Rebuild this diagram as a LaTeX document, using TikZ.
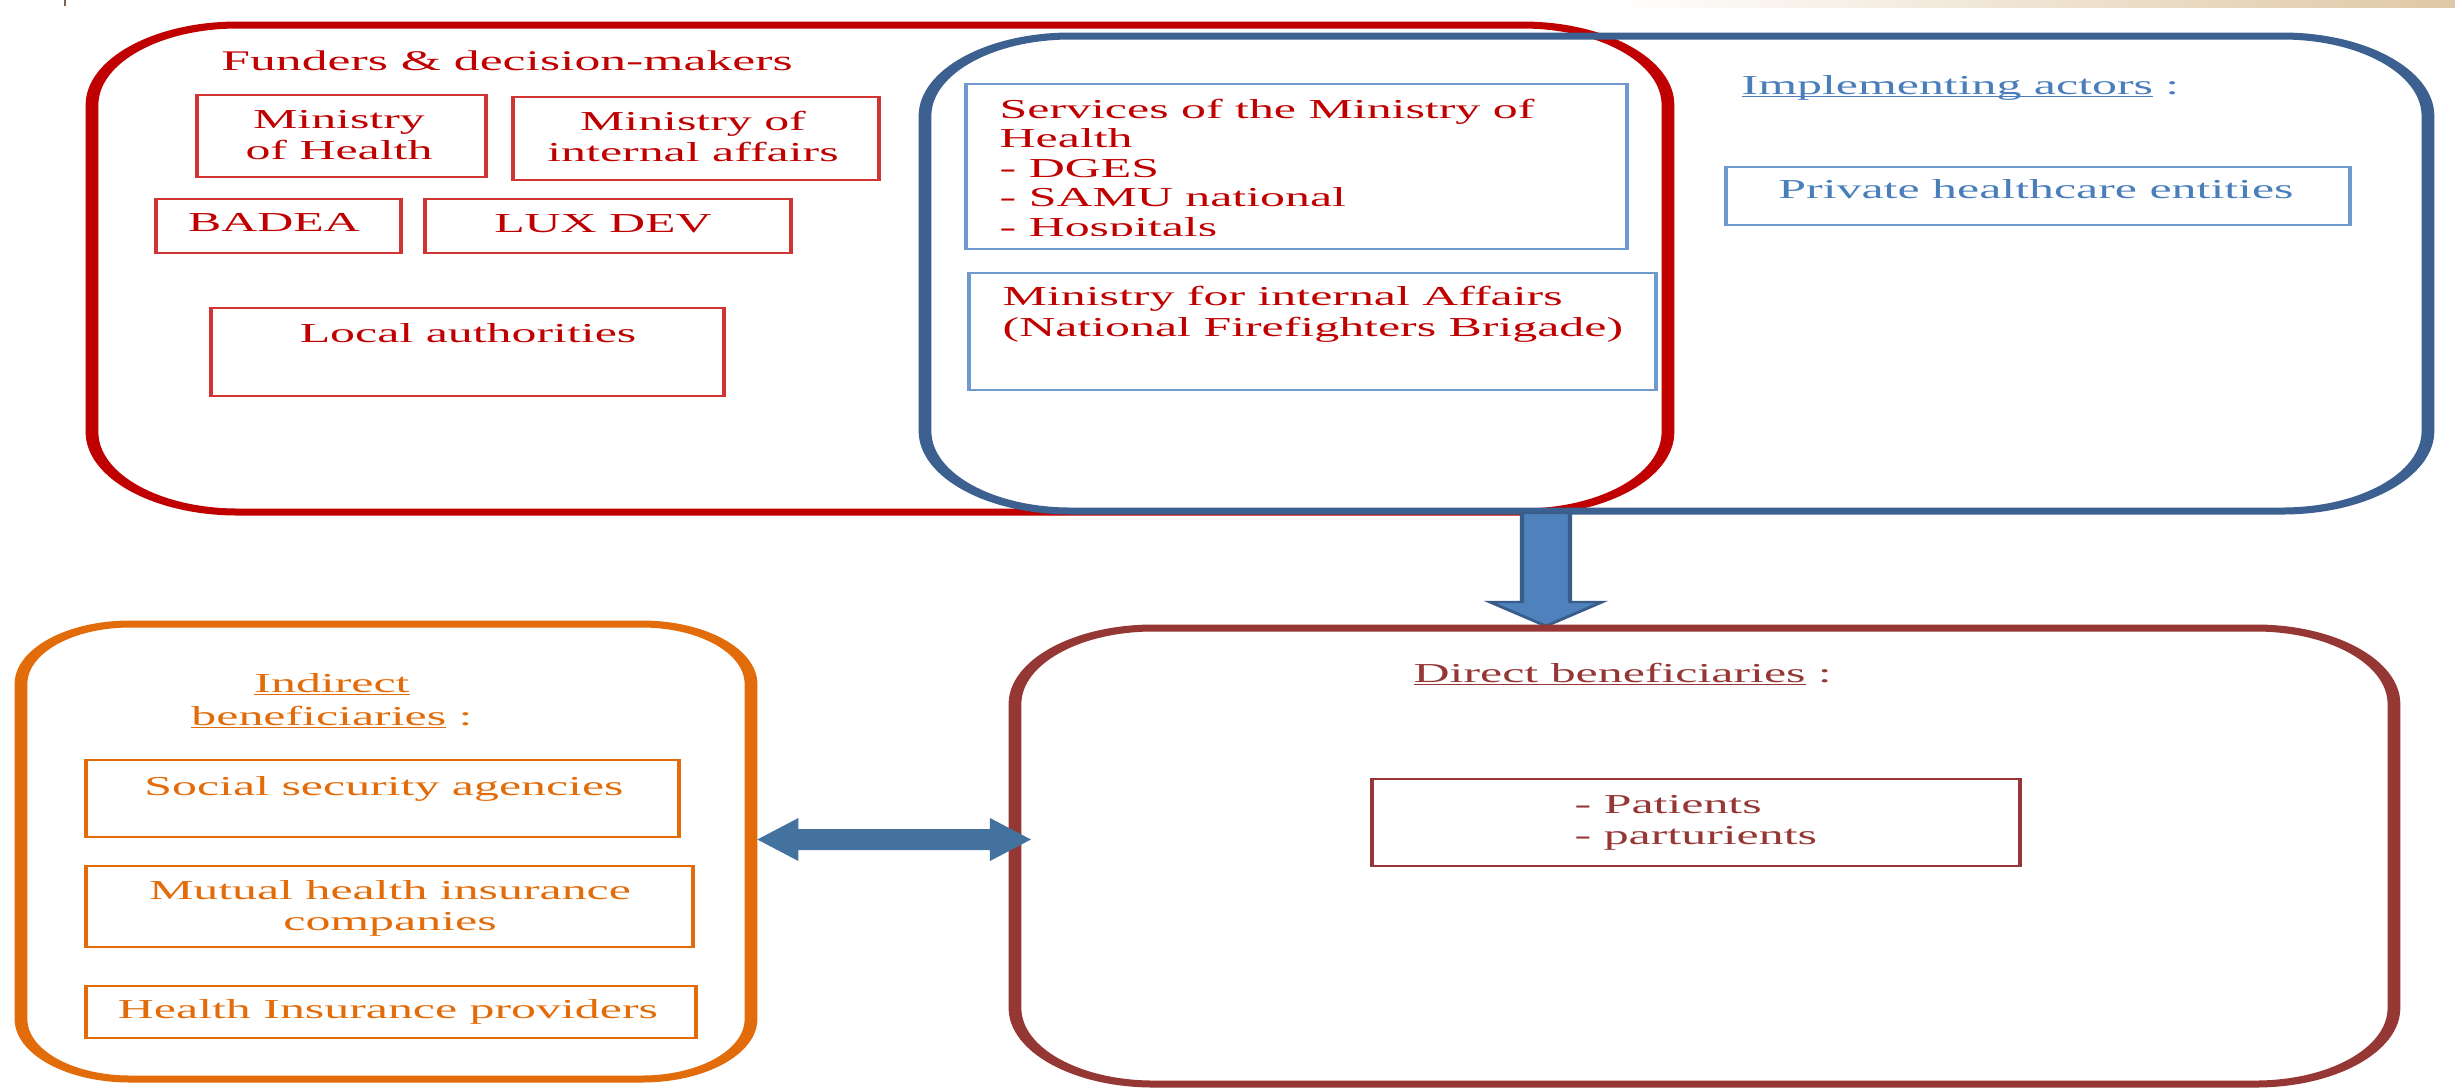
\documentclass[tikz,border=0pt]{standalone}
\usepackage{fontspec}
\setmainfont{Liberation Serif}
\usetikzlibrary{fit,calc}
\definecolor{cRed}{HTML}{C00000}
\definecolor{cRedThin}{HTML}{D03434}
\definecolor{cBlue}{HTML}{3C6090}
\definecolor{cBlueThin}{HTML}{6F99CF}
\definecolor{cBlueTxt}{HTML}{4A7EBB}
\definecolor{cOrange}{HTML}{E36C0A}
\definecolor{cBrown}{HTML}{953735}
\definecolor{cArrow}{HTML}{4F81BD}
\definecolor{cArrowB}{HTML}{385D8A}
\definecolor{cArrowH}{HTML}{44729E}
\definecolor{cTan}{RGB}{223,200,165}
\definecolor{cTick}{HTML}{7A6A4A}
\newsavebox\ulbox
\newcommand\wul[1]{\sbox\ulbox{#1}\rlap{\rule[-1.6pt]{\wd\ulbox}{0.75pt}}\usebox\ulbox}
\newcommand\fs{\fontsize{13.7pt}{15.4pt}\selectfont}
\tikzset{
  bigbox/.style={draw=#1, line width=3.5pt, inner sep=0pt},
  thinbox/.style={draw=#1, line width=0.9pt, inner sep=0pt},
  txt/.style={font=\fs, inner sep=0pt, text=#1, anchor=base},
  txtl/.style={txt=#1, anchor=base west, align=left},
  txtc/.style={txt=#1, align=center},
}
\begin{document}
\begin{tikzpicture}[x=0.5pt,y=-0.5pt]
\useasboundingbox[fill=white] (0,0) rectangle (2455,1089);
\begin{scope}[x=0.274725pt, transform canvas={xscale=1.82}]
  % page artefacts at the top edge
  \shade[left color=white, right color=cTan] (1610,0) rectangle (2455,7);
  \draw[cTick, line width=0.5pt] (65,0) -- (65,6);

  % containers
  \node[bigbox=cRed, rounded corners=40pt, fit={(92,25) (1668,512)}] (funders) {};
  \node[bigbox=cBlue, rounded corners=40pt, fit={(925,36) (2428,511)}] (impl) {};

  % funders & decision-makers
  \node[txtc=cRed, font=\fontsize{14.2pt}{15.4pt}\selectfont] (tFund) at (507,70) {Funders \& decision-makers};
  \node[thinbox=cRedThin, fit={(197,95) (486,177)}] (bMoH) {};
  \node[txtc=cRed] (tMoH) at (339,159) {Ministry\\of Health};
  \node[thinbox=cRedThin, fit={(513,97) (879,180)}] (bMIA) {};
  \node[txtc=cRed] (tMIA) at (693,161) {Ministry of\\internal affairs};
  \node[thinbox=cRedThin, fit={(156,199) (401,253)}] (bBad) {};
  \node[txt=cRed] (tBad) at (274,231) {BADEA};
  \node[thinbox=cRedThin, fit={(425,199) (791,253)}] (bLux) {};
  \node[txt=cRed] (tLux) at (603,232) {LUX DEV};
  \node[thinbox=cRedThin, fit={(211,308) (724,396)}] (bLoc) {};
  \node[txt=cRed] (tLoc) at (468,342) {Local authorities};

  % implementing actors
  \node[thinbox=cBlueThin, fit={(966,84) (1627,249)}] (bSvc) {};
  \begin{scope}
    \clip (966,84) rectangle (1627,235);
    \node[txtl=cRed, font=\fontsize{13.7pt}{14.75pt}\selectfont] (tSvc) at (999,236)
      {Services of the Ministry of\\Health\\- DGES\\- SAMU national\\- Hospitals};
  \end{scope}
  \node[thinbox=cBlueThin, fit={(969,273) (1656,390)}] (bMin) {};
  \node[txtl=cRed] (tMin) at (1002,336) {Ministry for internal Affairs\\(National Firefighters Brigade)};
  \node[txt=cBlueTxt, anchor=base west] (tImpl) at (1741,94) {\wul{Implementing actors} :};
  \node[thinbox=cBlueThin, fit={(1726,167) (2350,225)}] (bPriv) {};
  \node[txt=cBlueTxt] (tPriv) at (2036,198) {Private healthcare entities};

  % indirect beneficiaries
  \node[bigbox=cOrange, rounded corners=30pt, fit={(21,624) (751,1079)}] (indirect) {};
  \node[txtc=cOrange, font=\fontsize{13.7pt}{16.5pt}\selectfont] (tInd) at (332,725) {\wul{Indirect}\\\wul{beneficiaries} :};
  \node[thinbox=cOrange, fit={(86,760) (679,837)}] (bSoc) {};
  \node[txt=cOrange] (tSoc) at (384,795) {Social security agencies};
  \node[thinbox=cOrange, fit={(86,866) (693,947)}] (bMut) {};
  \node[txtc=cOrange] (tMut) at (390,930) {Mutual health insurance\\companies};
  \node[thinbox=cOrange, fit={(86,986) (696,1038)}] (bHIP) {};
  \node[txt=cOrange] (tHIP) at (388,1018) {Health Insurance providers};

  % down arrow from implementing actors to direct beneficiaries
  \coordinate (aTop) at (1546,513);
  \coordinate (aTip) at (1546,626);
  \filldraw[fill=cArrow, draw=cArrowB, line width=1.2pt, line join=miter]
    ($(aTop)+(-24,0)$) -- ($(aTip)+(-24,-24)$) -- ($(aTip)+(-56,-24)$) -- (aTip)
    -- ($(aTip)+(56,-24)$) -- ($(aTip)+(24,-24)$) -- ($(aTop)+(24,0)$) -- cycle;

  % direct beneficiaries
  \node[bigbox=cBrown, rounded corners=38pt, fit={(1015,628) (2394,1084)}] (direct) {};
  \node[txt=cBrown, anchor=base west] (tDir) at (1413,682) {\wul{Direct beneficiaries} :};
  \node[thinbox=cBrown, fit={(1372,779) (2020,866)}] (bPat) {};
  \node[txtl=cBrown] (tPat) at (1574,844) {- Patients\\- parturients};

  % double arrow between indirect and direct beneficiaries
  \coordinate (hL) at (indirect.east |- 0,839.5);
  \coordinate (hR) at (1031,839.5);
  \fill[cArrowH]
    (hL) -- ($(hL)+(41,-21.5)$) -- ($(hL)+(41,-10.5)$) -- ($(hR)+(-41,-10.5)$)
    -- ($(hR)+(-41,-21.5)$) -- (hR) -- ($(hR)+(-41,21.5)$) -- ($(hR)+(-41,10.5)$)
    -- ($(hL)+(41,10.5)$) -- ($(hL)+(41,21.5)$) -- cycle;
\end{scope}
\end{tikzpicture}
\end{document}
